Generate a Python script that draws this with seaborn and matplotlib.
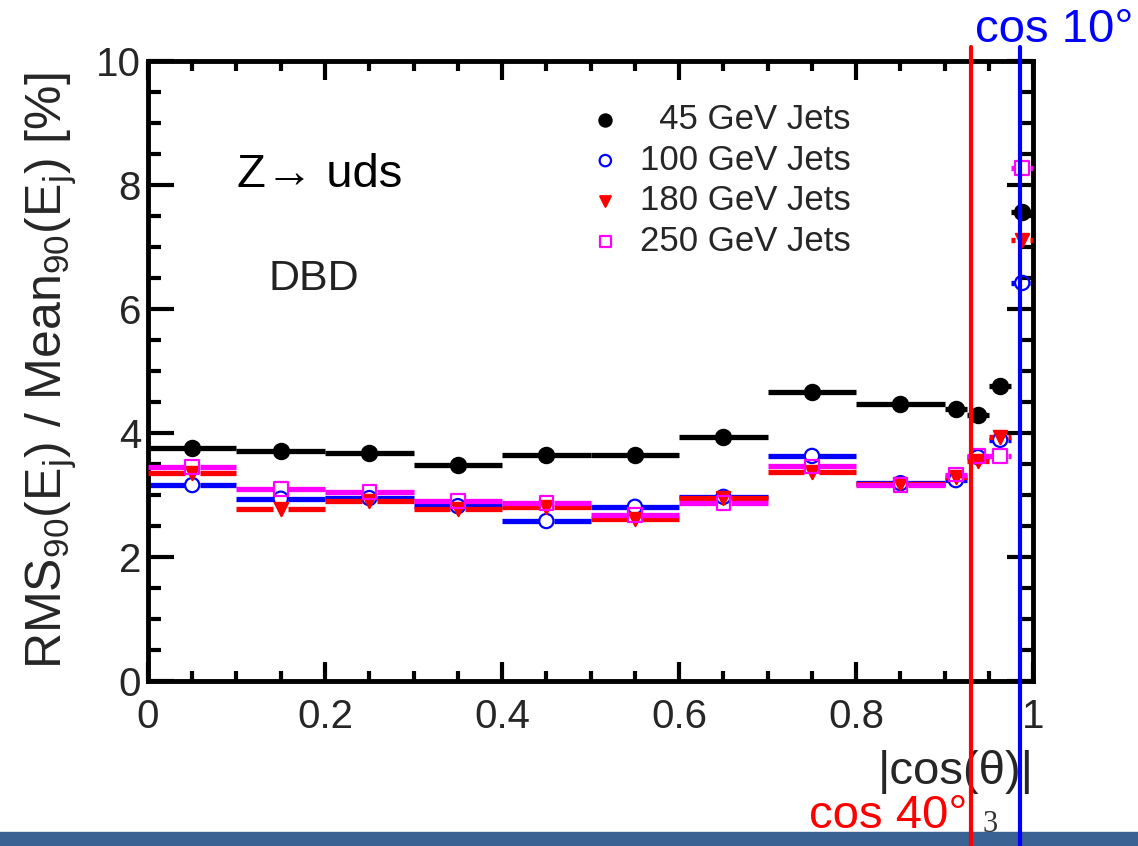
import matplotlib
matplotlib.use('Agg')
import matplotlib.pyplot as plt
from matplotlib.patches import Rectangle
from matplotlib.ticker import MultipleLocator, FuncFormatter
import seaborn as sns
import numpy as np

# |cos(theta)| bins (last four are narrow)
bin_edges = [0.0, 0.1, 0.2, 0.3, 0.4, 0.5, 0.6, 0.7, 0.8, 0.9, 0.925, 0.95, 0.975, 1.0]

# RMS90/Mean90 [%] per bin
res_45 = [3.76, 3.71, 3.68, 3.49, 3.65, 3.64, 3.94, 4.66, 4.47, 4.39, 4.29, 4.75, 7.56]
res_100 = [3.16, 2.94, 2.95, 2.82, 2.58, 2.81, 2.97, 3.63, 3.19, 3.24, 3.61, 3.89, 6.42]
res_180 = [3.36, 2.77, 2.90, 2.77, 2.81, 2.61, 2.95, 3.37, 3.17, 3.29, 3.55, 3.93, 7.11]
res_250 = [3.45, 3.10, 3.05, 2.90, 2.87, 2.68, 2.87, 3.46, 3.16, 3.33, 3.63, 3.63, 8.27]

labels = ["  45 GeV Jets", "100 GeV Jets", "180 GeV Jets", "250 GeV Jets"]

# angular cut lines
cut_values = [0.930, 0.985]
cut_labels = ["cos 40°", "cos 10°"]

sns.set_theme(style="ticks")
plt.rcParams['font.family'] = ['Liberation Sans', 'DejaVu Sans']
plt.rcParams['mathtext.fontset'] = 'custom'
plt.rcParams['mathtext.rm'] = 'Liberation Sans'
plt.rcParams['mathtext.it'] = 'Liberation Sans'

fig = plt.figure(figsize=(11.38, 8.46), dpi=100)
ax = fig.add_axes([0.130, 0.195, 0.778, 0.733])

edges = np.array(bin_edges)
lo = edges[:-1]
hi = edges[1:]
centers = 0.5 * (lo + hi)
gap = 0.0085

styles = [
    (res_45, 'black', 'o', 'black', 120, 5),
    (res_100, '#0000ff', 'o', 'none', 105, 3),
    (res_180, '#ff0000', 'v', '#ff0000', 90, 4),
    (res_250, '#ff00ff', 's', 'none', 95, 4),
]

for lab, (vals, col, mk, face, size, z) in zip(labels, styles):
    vals = np.array(vals)
    # horizontal bin-width bars, broken around the marker
    ax.hlines(vals, lo, centers - gap, color=col, lw=3.8, zorder=z - 1)
    ax.hlines(vals, centers + gap, hi, color=col, lw=3.8, zorder=z - 1)
    sns.scatterplot(x=centers, y=vals, ax=ax, marker=mk, s=size, color=col,
                    facecolor=face, edgecolor=col, linewidth=1.6,
                    label=lab, zorder=z)

ax.set_xlim(0, 1)
ax.set_ylim(0, 10)
ax.xaxis.set_major_locator(MultipleLocator(0.2))
ax.xaxis.set_minor_locator(MultipleLocator(0.05))
ax.yaxis.set_major_locator(MultipleLocator(2))
ax.yaxis.set_minor_locator(MultipleLocator(0.5))
ax.xaxis.set_major_formatter(FuncFormatter(lambda v, p: f'{v:g}'))

for sp in ax.spines.values():
    sp.set_visible(True)
    sp.set_linewidth(3.5)
    sp.set_color('black')

ax.tick_params(axis='both', which='both', direction='in', top=True, right=True,
               width=3, color='black')
ax.tick_params(axis='y', which='major', length=19, labelsize=29, pad=5)
ax.tick_params(axis='y', which='minor', length=9)
ax.tick_params(axis='x', which='major', length=14, labelsize=29, pad=12)
ax.tick_params(axis='x', which='minor', length=7)

ax.set_ylabel(r'RMS$_{90}$(E$_{\rm j}$) / Mean$_{90}$(E$_{\rm j}$) [%]', fontsize=36, labelpad=12)
ax.set_xlabel('|cos(θ)|', loc='right', fontsize=34, labelpad=10)

ax.legend(frameon=False, loc='upper left', bbox_to_anchor=(0.497, 0.932),
          fontsize=25, handlelength=1.0, handletextpad=0.5, labelspacing=0.22,
          borderaxespad=0, borderpad=0, markerscale=0.8)

fig.text(237 / 1138, 1 - 187 / 846, 'Z→ uds', fontsize=34, color='black')
fig.text(268 / 1138, 1 - 290 / 846, 'DBD', fontsize=31, color='#222222')

# cut lines running beyond the frame
for xv, c in zip(cut_values, ['#ff0000', '#0000ff']):
    ax.axvline(xv, ymin=-0.27, ymax=1.0226, color=c, lw=3, clip_on=False, zorder=10)

fig.text(967 / 1138, 1 - 828 / 846, cut_labels[0], ha='right', va='baseline',
         color='#ff0000', fontsize=34)
fig.text(975 / 1138, 1 - 42 / 846, cut_labels[1], ha='left', va='baseline',
         color='#0000ff', fontsize=34)

# slide footer band and page number
fig.add_artist(Rectangle((0, 0), 1, 14 / 846, transform=fig.transFigure,
                         color='#3a6393', zorder=-1))
fig.text(982 / 1138, 1 - 832 / 846, '3', fontsize=22, color='#333333',
         family='Liberation Serif', va='baseline')

fig.savefig('out.png', dpi=100)
plt.close(fig)
